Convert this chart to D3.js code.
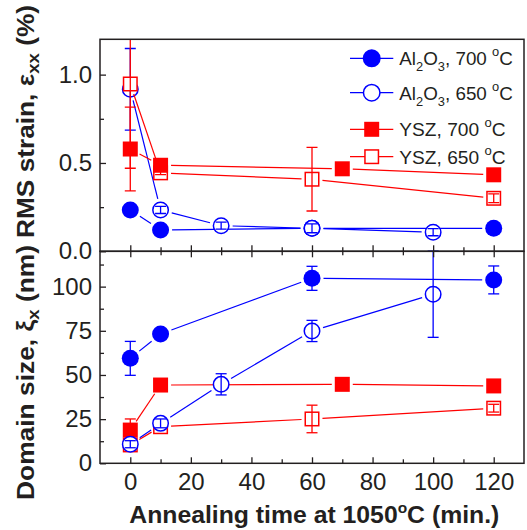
<!DOCTYPE html>
<html>
<head>
<meta charset="utf-8">
<script src="https://cdn.jsdelivr.net/npm/d3@7"></script>
<style>
  html, body { margin: 0; padding: 0; background: #fff; }
  svg { display: block; font-family: "Liberation Sans", Arial, Helvetica, sans-serif; }
</style>
</head>
<body>
<svg id="chart" width="527" height="530"></svg>
<script>
// ---- axis ticks ----
const xTicks = [0, 20, 40, 60, 80, 100, 120];
const xMinorTicks = [10, 30, 50, 70, 90, 110];
const strainTicks = [0, 0.5, 1.0];
const strainMinorTicks = [0.25, 0.75];
const sizeTicks = [0, 25, 50, 75, 100];
const sizeMinorTicks = [12.5, 37.5, 62.5, 87.5, 112.5];

// ---- Al2O3, 700 C ----
const al700Time = [0, 10, 60, 120];
const al700Strain = [0.234, 0.121, 0.130, 0.130];
const al700StrainErr = [0, 0, 0, 0];
const al700Size = [59.4, 73.2, 104.7, 103.8];
const al700SizeErr = [9.6, 0, 6.8, 7.9];

// ---- Al2O3, 650 C ----
const al650Time = [0, 10, 30, 60, 100];
const al650Strain = [0.917, 0.234, 0.145, 0.130, 0.108];
const al650StrainErr = [0.231, 0.02, 0.02, 0.025, 0.02];
const al650Size = [10.8, 22.6, 44.7, 74.9, 95.7];
const al650SizeErr = [2, 2.5, 6, 6, 24.4];

// ---- YSZ, 700 C ----
const ysz700Time = [0, 10, 70, 120];
const ysz700Strain = [0.579, 0.487, 0.467, 0.433];
const ysz700StrainErr = [0.237, 0, 0, 0];
const ysz700Size = [18.8, 44.3, 44.7, 43.8];
const ysz700SizeErr = [6.3, 0, 0, 0];

// ---- YSZ, 650 C ----
const ysz650Time = [0, 10, 60, 120];
const ysz650Strain = [0.947, 0.444, 0.408, 0.300];
const ysz650StrainErr = [0.477, 0.01, 0.18, 0.025];
const ysz650Size = [10.4, 20.7, 25.1, 31.2];
const ysz650SizeErr = [3, 1.5, 7.8, 2.2];

// legend text pieces: [text, role]
const legendLabels = [
  [["Al"], ["2", "sub"], ["O"], ["3", "sub"], [", 700 "], ["o", "sup"], ["C"]],
  [["Al"], ["2", "sub"], ["O"], ["3", "sub"], [", 650 "], ["o", "sup"], ["C"]],
  [["YSZ, 700 "], ["o", "sup"], ["C"]],
  [["YSZ, 650 "], ["o", "sup"], ["C"]]
];

const BLUE = "#0000ff", RED = "#ff0000", INK = "#231f20";

const series = [
  { id: "al700", color: BLUE, shape: "circle", filled: true,
    time: al700Time, strain: al700Strain, strainErr: al700StrainErr, size: al700Size, sizeErr: al700SizeErr },
  { id: "al650", color: BLUE, shape: "circle", filled: false,
    time: al650Time, strain: al650Strain, strainErr: al650StrainErr, size: al650Size, sizeErr: al650SizeErr },
  { id: "ysz700", color: RED, shape: "square", filled: true,
    time: ysz700Time, strain: ysz700Strain, strainErr: ysz700StrainErr, size: ysz700Size, sizeErr: ysz700SizeErr },
  { id: "ysz650", color: RED, shape: "square", filled: false,
    time: ysz650Time, strain: ysz650Strain, strainErr: ysz650StrainErr, size: ysz650Size, sizeErr: ysz650SizeErr }
];
const byId = Object.fromEntries(series.map(s => [s.id, s]));

// ---- layout ----
const left = 100, right = 524;
const top1 = 39.3, mid = 251.3, bottom2 = 463.3;
const R = 8.5, HALF = 7.5, CAP = 5.5;

const svg = d3.select("#chart");

const x = d3.scaleLinear().domain([-10, 130]).range([left, right]);
const yStrain = d3.scaleLinear().domain([0, 1.2]).range([mid, top1]);
const ySize = d3.scaleLinear().domain([0, 120]).range([bottom2, mid]);

const panels = [
  { key: "strain", err: "strainErr", y: yStrain, y0: top1, y1: mid,
    order: ["al700", "al650", "ysz650", "ysz700"],
    ticks: strainTicks, minor: strainMinorTicks, fmt: d3.format(".1f"), clip: true },
  { key: "size", err: "sizeErr", y: ySize, y0: mid, y1: bottom2,
    order: ["al700", "ysz700", "ysz650", "al650"],
    ticks: sizeTicks, minor: sizeMinorTicks, fmt: d3.format("d"), clip: false }
];

const defs = svg.append("defs");

function drawMarker(g, s, cx, cy, r, half) {
  const fill = s.filled ? s.color : "#fff";
  if (s.shape === "circle") {
    g.append("circle").attr("cx", cx).attr("cy", cy)
      .attr("r", s.filled ? r : r - 0.75)
      .attr("fill", fill).attr("stroke", s.color).attr("stroke-width", s.filled ? 0 : 1.5);
  } else {
    const h = s.filled ? half : half - 0.75;
    g.append("rect").attr("x", cx - h).attr("y", cy - h)
      .attr("width", 2 * h).attr("height", 2 * h)
      .attr("fill", fill).attr("stroke", s.color).attr("stroke-width", s.filled ? 0 : 1.5);
  }
}

panels.forEach((p, pi) => {
  const g = svg.append("g");
  if (p.clip) {
    defs.append("clipPath").attr("id", "clip" + pi)
      .append("rect").attr("x", left).attr("y", p.y0)
      .attr("width", right - left).attr("height", p.y1 - p.y0);
    g.attr("clip-path", `url(#clip${pi})`);
  }

  p.order.forEach(id => {
    const s = byId[id];
    const pts = s.time.map((t, i) => [x(t), p.y(s[p.key][i]), s[p.err][i]]);
    const gap = (s.shape === "circle" ? R : HALF) + 3;

    // connecting segments, stopped short of each symbol
    const segs = d3.pairs(pts).map(([a, b]) => {
      const dx = b[0] - a[0], dy = b[1] - a[1];
      const len = Math.hypot(dx, dy);
      if (len <= 2 * gap) return null;
      const ux = dx / len, uy = dy / len;
      return [a[0] + ux * gap, a[1] + uy * gap, b[0] - ux * gap, b[1] - uy * gap];
    }).filter(Boolean);
    g.append("g").selectAll("line").data(segs).join("line")
      .attr("x1", d => d[0]).attr("y1", d => d[1])
      .attr("x2", d => d[2]).attr("y2", d => d[3])
      .attr("stroke", s.color).attr("stroke-width", 1.2);

    const mg = g.append("g");
    pts.forEach(d => drawMarker(mg, s, d[0], d[1], R, HALF));

    // error bars with caps
    const eg = g.append("g").attr("stroke", s.color).attr("stroke-width", 1.3).attr("fill", "none");
    s.time.forEach((t, i) => {
      const e = s[p.err][i];
      if (!e) return;
      const v = s[p.key][i];
      const cx = x(t), ya = p.y(v + e), yb = p.y(v - e);
      eg.append("line").attr("x1", cx).attr("x2", cx).attr("y1", ya).attr("y2", yb);
      eg.append("line").attr("x1", cx - CAP).attr("x2", cx + CAP).attr("y1", ya).attr("y2", ya);
      eg.append("line").attr("x1", cx - CAP).attr("x2", cx + CAP).attr("y1", yb).attr("y2", yb);
    });
  });

  // left axis: inward ticks
  svg.append("g").attr("transform", `translate(${left},0)`)
    .call(d3.axisLeft(p.y).tickValues(p.ticks).tickFormat(p.fmt)
      .tickSizeInner(-6).tickSizeOuter(0).tickPadding(8));
  svg.append("g").attr("transform", `translate(${left},0)`)
    .call(d3.axisLeft(p.y).tickValues(p.minor).tickFormat("")
      .tickSizeInner(-4).tickSizeOuter(0));
});

// horizontal axes: ticks on both sides of the shared edge and on the bottom
function xAxis(gen, yPos, size, labels) {
  svg.append("g").attr("transform", `translate(0,${yPos})`)
    .call(gen(x).tickValues(xTicks).tickFormat(labels ? d3.format("d") : "")
      .tickSizeInner(-size).tickSizeOuter(0).tickPadding(10));
  svg.append("g").attr("transform", `translate(0,${yPos})`)
    .call(gen(x).tickValues(xMinorTicks).tickFormat("")
      .tickSizeInner(-4).tickSizeOuter(0));
}
xAxis(d3.axisBottom, mid, 6, false);
xAxis(d3.axisTop, mid, 6, false);
xAxis(d3.axisBottom, bottom2, 6, true);

// style every axis
svg.selectAll(".domain").remove();
svg.selectAll(".tick line").attr("stroke", INK).attr("stroke-width", 1.3);
svg.selectAll(".tick text").attr("fill", INK).attr("font-size", 24)
  .attr("font-family", "'Liberation Sans', Arial, sans-serif");

// panel frames
[[top1, mid], [mid, bottom2]].forEach(([a, b]) => {
  svg.append("rect").attr("x", left).attr("y", a)
    .attr("width", right - left).attr("height", b - a)
    .attr("fill", "none").attr("stroke", INK).attr("stroke-width", 1.5);
});

// rich text with sub/superscripts, stretched to a set run length
function richText(sel, parts, base, subSize, shiftSub, shiftSup, runLength) {
  let prev = 0;
  parts.forEach(([txt, role]) => {
    const shift = role === "sub" ? shiftSub : role === "sup" ? -shiftSup : 0;
    sel.append("tspan").text(txt)
      .attr("font-size", role ? subSize : base)
      .attr("dy", shift - prev);
    prev = shift;
  });
  if (runLength) sel.attr("textLength", runLength).attr("lengthAdjust", "spacingAndGlyphs");
}

// legend
const legRows = [58.3, 92.7, 129.3, 156.7];
const legRun = [113.5, 113.5, 106.3, 106.3];
const legLine = [350, 393.3], legMark = 371.7, legText = 399.3;
series.forEach((s, i) => {
  const g = svg.append("g");
  const yy = legRows[i];
  g.append("line").attr("x1", legLine[0]).attr("x2", legLine[1])
    .attr("y1", yy).attr("y2", yy).attr("stroke", s.color).attr("stroke-width", 1.2);
  drawMarker(g, s, legMark, yy, 9, 7.5);
  const t = g.append("text").attr("x", legText).attr("y", yy + 6.8)
    .attr("fill", INK).attr("font-size", 19);
  richText(t, legendLabels[i], 19, 13, 6, 9, legRun[i]);
});

// axis titles
const t1 = svg.append("text")
  .attr("transform", "translate(33.5,121.5) rotate(-90)")
  .attr("text-anchor", "middle").attr("font-weight", "bold").attr("fill", INK);
richText(t1, [["RMS strain, ε"], ["xx", "sub"], [" (%)"]], 24, 17, 5, 0, 233);

const t2 = svg.append("text")
  .attr("transform", "translate(34,372.5) rotate(-90)")
  .attr("text-anchor", "middle").attr("font-weight", "bold").attr("fill", INK);
richText(t2, [["Domain size, ξ"], ["x", "sub"], [" (nm)"]], 24, 17, 5, 0, 255);

const t3 = svg.append("text")
  .attr("x", 314.3).attr("y", 522.7)
  .attr("text-anchor", "middle").attr("font-weight", "bold").attr("fill", INK);
richText(t3, [["Annealing time at 1050"], ["o", "sup"], ["C (min.)"]], 24, 15, 0, 10, 370);
</script>
</body>
</html>
